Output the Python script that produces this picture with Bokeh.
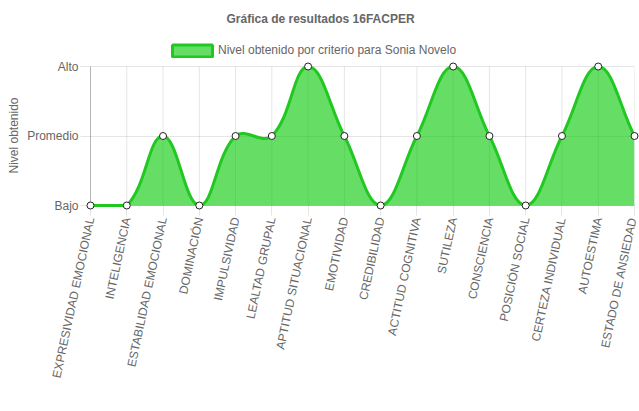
import math
import numpy as np
from bokeh.plotting import figure
from bokeh.models import FixedTicker, Legend, LegendItem, Range1d, Title
from bokeh.embed import file_html
from bokeh.resources import INLINE

# ---- data ----
criterios = ["EXPRESIVIDAD EMOCIONAL", "INTELIGENCIA", "ESTABILIDAD EMOCIONAL",
             "DOMINACIÓN", "IMPULSIVIDAD", "LEALTAD GRUPAL", "APTITUD SITUACIONAL",
             "EMOTIVIDAD", "CREDIBILIDAD", "ACTITUD COGNITIVA", "SUTILEZA",
             "CONSCIENCIA", "POSICIÓN SOCIAL", "CERTEZA INDIVIDUAL", "AUTOESTIMA",
             "ESTADO DE ANSIEDAD"]
niveles = [0, 0, 1, 0, 1, 1, 2, 1, 0, 1, 2, 1, 0, 1, 2, 1]
nivel_labels = ["Bajo", "Promedio", "Alto"]
titulo = "Gráfica de resultados 16FACPER"
serie = "Nivel obtenido por criterio para Sonia Novelo"
eje_y = "Nivel obtenido"

# ---- style ----
FONT = "Liberation Sans"
TXT = "#666666"
FILL = "#00c800"
FILL_ALPHA = 0.6
LINE = "#22c822"

n = len(criterios)
ymax = len(nivel_labels) - 1

# geometry (figure pixels)
W, H = 639, 411
FL, FR, TOP_LEVEL, FB = 90, 634, 66, 205   # x of first/last category, y of "Alto"/"Bajo"
FT = 30                                     # frame top (room for the legend)
PX_X = (FR - FL) / (n - 1)
PX_Y = (FB - TOP_LEVEL) / ymax
y_top = ymax + (TOP_LEVEL - FT) / PX_Y

# Chart.js-like spline control points (tension 0.4, capped to chart area)
TENSION = 0.4
xs = np.arange(n, dtype=float)
ys = np.array(niveles, dtype=float)
cprev, cnext = [], []
for i in range(n):
    px, py = (xs[i - 1], ys[i - 1]) if i > 0 else (xs[i], ys[i])
    nx, ny = (xs[i + 1], ys[i + 1]) if i < n - 1 else (xs[i], ys[i])
    cx, cy = xs[i], ys[i]
    d01 = math.hypot((cx - px) * PX_X, (cy - py) * PX_Y)
    d12 = math.hypot((nx - cx) * PX_X, (ny - cy) * PX_Y)
    tot = d01 + d12
    s01 = d01 / tot if tot else 0.0
    s12 = d12 / tot if tot else 0.0
    fa, fb = TENSION * s01, TENSION * s12
    a = (cx - fa * (nx - px), cy - fa * (ny - py))
    b = (cx + fb * (nx - px), cy + fb * (ny - py))
    clamp = lambda q: (min(max(q[0], 0), n - 1), min(max(q[1], 0), ymax))
    cprev.append(clamp(a))
    cnext.append(clamp(b))

bx0 = xs[:-1]; by0 = ys[:-1]; bx1 = xs[1:]; by1 = ys[1:]
bcx0 = [c[0] for c in cnext[:-1]]; bcy0 = [c[1] for c in cnext[:-1]]
bcx1 = [c[0] for c in cprev[1:]]; bcy1 = [c[1] for c in cprev[1:]]

# fill outline from the same bezier segments
fx, fy = [], []
t = np.linspace(0, 1, 30)
for i in range(n - 1):
    P = np.array([[bx0[i], by0[i]], [bcx0[i], bcy0[i]], [bcx1[i], bcy1[i]], [bx1[i], by1[i]]])
    pts = ((1 - t) ** 3)[:, None] * P[0] + (3 * (1 - t) ** 2 * t)[:, None] * P[1] \
        + (3 * (1 - t) * t ** 2)[:, None] * P[2] + (t ** 3)[:, None] * P[3]
    fx.extend(pts[:, 0]); fy.extend(pts[:, 1])
fx = fx + [n - 1, 0]
fy = fy + [0, 0]

p = figure(width=W, height=H, x_range=Range1d(0, n - 1), y_range=Range1d(0, y_top),
           output_backend="svg", toolbar_location=None,
           min_border_left=FL, min_border_right=W - FR, min_border_top=FT,
           min_border_bottom=H - FB)
p.outline_line_color = None
p.background_fill_color = "white"
p.border_fill_color = "white"

# title
p.title.text = titulo
p.title.align = "left"
p.title.offset = 136
p.title.text_font = FONT
p.title.text_font_size = "12px"
p.title.text_font_style = "bold"
p.title.text_color = TXT

# axes
p.xaxis.ticker = FixedTicker(ticks=list(range(n)))
p.xaxis.major_label_overrides = {i: c for i, c in enumerate(criterios)}
p.xaxis.major_label_orientation = math.radians(78)
p.yaxis.ticker = FixedTicker(ticks=list(range(len(nivel_labels))))
p.yaxis.major_label_overrides = {i: c for i, c in enumerate(nivel_labels)}
p.yaxis.bounds = (0, ymax)
for ax in (p.xaxis, p.yaxis):
    ax.major_tick_out = 10
    ax.major_tick_in = 0
    ax.minor_tick_line_color = None
    ax.major_tick_line_color = "black"
    ax.major_tick_line_alpha = 0.1
    ax.axis_line_color = "black"
    ax.axis_line_alpha = 0.25
    ax.major_label_text_font = FONT
    ax.major_label_text_font_size = "12px"
    ax.major_label_text_color = TXT
    ax.major_label_standoff = 2

# y-axis title, positioned along the Bajo..Alto span
p.add_layout(Title(text=eje_y, align="left", offset=32, standoff=7, text_font=FONT,
                   text_font_size="12px", text_font_style="normal",
                   text_color=TXT), "left")

# grid: horizontal from the axis, vertical lines only between Bajo and Alto
p.xgrid.visible = False
p.ygrid.grid_line_color = "black"
p.ygrid.grid_line_alpha = 0.1
p.segment(x0=xs, y0=[0] * n, x1=xs, y1=[ymax] * n, line_color="black",
          line_alpha=0.1, line_width=1, level="underlay")

# marks
p.patch(fx, fy, fill_color=FILL, fill_alpha=FILL_ALPHA, line_color=None)
# zero-size swatch renderer (hidden under the first point) used for the legend
swatch = p.quad(left=xs[:1], right=xs[:1], top=ys[:1], bottom=ys[:1], fill_color=FILL,
                fill_alpha=FILL_ALPHA, line_color=LINE, line_width=3)
p.bezier(x0=bx0, y0=by0, x1=bx1, y1=by1, cx0=bcx0, cy0=bcy0, cx1=bcx1, cy1=bcy1,
         line_color=LINE, line_width=3, level="overlay")
p.scatter(xs, niveles, size=7, fill_color="white", line_color="#222222",
          line_width=1, level="overlay")

legend = Legend(items=[LegendItem(label=serie, renderers=[swatch], index=0)],
                location=(77, FB - 57.5), padding=0, margin=0, spacing=0,
                glyph_width=50, glyph_height=15, label_height=15, label_standoff=1,
                label_text_font=FONT, label_text_font_size="12px",
                label_text_color=TXT, border_line_color=None,
                background_fill_alpha=0)
p.add_layout(legend)

open("out.html", "w").write(file_html(p, INLINE))
